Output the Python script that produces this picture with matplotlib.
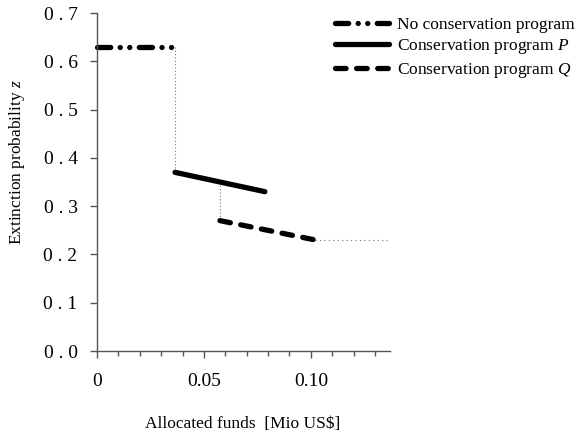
import matplotlib
matplotlib.use("Agg")
import matplotlib.pyplot as plt
import numpy as np
from matplotlib.ticker import MultipleLocator, FixedLocator

plt.rcParams['font.family'] = ['Liberation Serif', 'DejaVu Serif']
plt.rcParams['mathtext.fontset'] = 'custom'
plt.rcParams['mathtext.rm'] = 'Liberation Serif'
plt.rcParams['mathtext.it'] = 'Liberation Serif:italic'

# data
none_x = [0.0, 0.0365]
none_y = [0.63, 0.63]
p_x = [0.0365, 0.0785]
p_y = [0.37, 0.33]
q_x = [0.0575, 0.102]
q_y = [0.27, 0.23]
conn1_x = [0.0365, 0.0365]
conn1_y = [0.63, 0.37]
conn2_x = [0.0575, 0.0575]
conn2_y = [0.35, 0.27]
tail_x = [0.102, 0.137]
tail_y = [0.23, 0.23]
yticks = [0.0, 0.1, 0.2, 0.3, 0.4, 0.5, 0.6, 0.7]
ytick_labels = ["0 . 0", "0 . 1", "0 . 2", "0 . 3", "0 . 4", "0 . 5", "0 . 6", "0 . 7"]
xticks = [0.0, 0.05, 0.10]
xtick_labels = ["0", "0.05", "0.10"]
labels = ["No conservation program", "Conservation program $P$", "Conservation program $Q$"]

fig = plt.figure(figsize=(5.82, 4.36), dpi=100)
ax = fig.add_axes([97/582, 1-351/436, (390-97)/582, (351-13)/436])

lw = 3.8
dotc = '#777777'
ax.plot(conn1_x, conn1_y, color=dotc, lw=0.8, ls=(0, (1, 2)))
ax.plot(conn2_x, conn2_y, color=dotc, lw=0.8, ls=(0, (1, 2)))
ax.plot(tail_x, tail_y, color=dotc, lw=0.8, ls=(0, (1, 3)))

l1, = ax.plot(none_x, none_y, color='black', lw=lw, ls=(0, (2.5, 1.8, 0.01, 1.8, 0.01, 1.8)),
              dash_capstyle='round', solid_capstyle='round', label=labels[0])
l2, = ax.plot(p_x, p_y, color='black', lw=lw, solid_capstyle='round', label=labels[1])
l3, = ax.plot(q_x, q_y, color='black', lw=lw, ls=(0, (2, 2)), dash_capstyle='round', label=labels[2])

ax.set_xlim(0, 0.137)
ax.set_ylim(0, 0.7)
for ln in ax.lines:
    ln.set_clip_on(False)

for s in ['top', 'right']:
    ax.spines[s].set_visible(False)
for s in ['left', 'bottom']:
    ax.spines[s].set_color('#555555')
    ax.spines[s].set_linewidth(1.0)

ax.yaxis.set_major_locator(FixedLocator(yticks))
ax.set_yticklabels(ytick_labels)
ax.xaxis.set_major_locator(FixedLocator(xticks))
ax.set_xticklabels(xtick_labels)
ax.xaxis.set_minor_locator(MultipleLocator(0.01))
ax.tick_params(axis='y', direction='out', length=5, width=1, color='#555555', pad=9, labelsize=14)
ax.tick_params(axis='x', which='major', direction='out', length=5, width=1, color='#555555', pad=11, labelsize=14)
ax.tick_params(axis='x', which='minor', direction='out', length=3.5, width=1, color='#555555')

fig.text(17/582, 1-162/436, "Extinction probability $z$", rotation=90, ha='center', va='center', fontsize=12.5)
fig.text(243/582, 1-424/436, "Allocated funds  [Mio US$]", ha='center', va='center', fontsize=12.5)

leg = fig.legend(handles=[l1, l2, l3], loc='upper left', bbox_to_anchor=(335/582, 1-17/436),
                 frameon=False, fontsize=12.5, handlelength=3.1, handletextpad=0.45,
                 labelspacing=0.25, borderpad=0, borderaxespad=0)

fig.savefig("out.png", dpi=100)
